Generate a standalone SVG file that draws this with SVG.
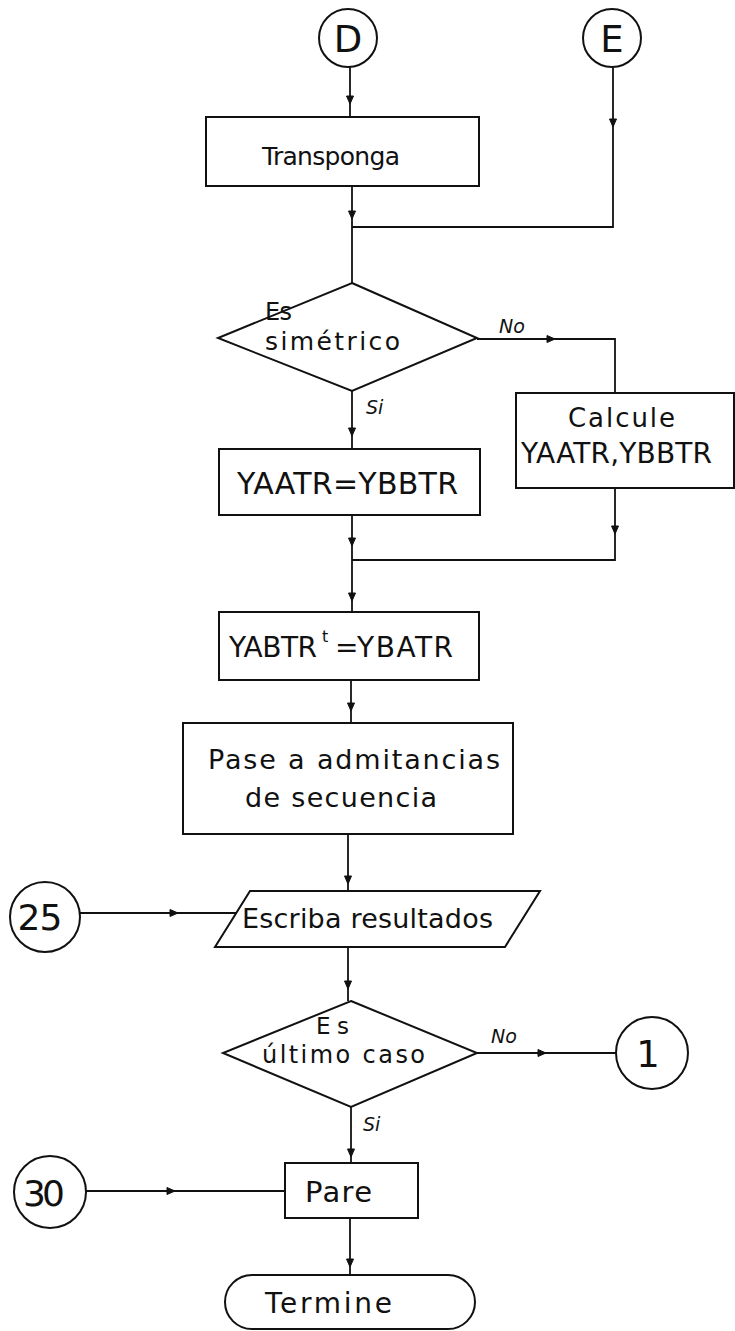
<svg xmlns="http://www.w3.org/2000/svg" width="735" height="1331" viewBox="0 0 735 1331">
  <style>
    .shape { fill: none; stroke: #111; stroke-width: 2; }
    .conn { fill: none; stroke: #111; stroke-width: 1.8; }
    .lbl { font-family: "DejaVu Sans", "Liberation Sans", sans-serif; fill: #111; }
    .small { font-family: "DejaVu Sans", "Liberation Sans", sans-serif; fill: #111; font-size: 19px; font-style: italic; }
    .mid { text-anchor: middle; }
  </style>
  <defs>
    <!-- small arrowhead pointing down (+y); rotated for other directions -->
    <path id="ah" d="M-3.5,-8 L0,0 L3.5,-8 Z" fill="#111" stroke="#111" stroke-width="1" stroke-linejoin="miter"/>
  </defs>

  <!-- connectors -->
  <g id="connectors">
    <path class="conn" d="M350,67 V117"/>
    <path class="conn" d="M352,186 V283"/>
    <path class="conn" d="M613,67 V227 H352"/>
    <path class="conn" d="M477,339 H615 V393"/>
    <path class="conn" d="M352,391 V449"/>
    <path class="conn" d="M352,515 V612"/>
    <path class="conn" d="M615,488 V560 H352"/>
    <path class="conn" d="M351,680 V723"/>
    <path class="conn" d="M348,834 V891"/>
    <path class="conn" d="M80,913 H236"/>
    <path class="conn" d="M348,947 V1001"/>
    <path class="conn" d="M477,1053 H616"/>
    <path class="conn" d="M351,1107 V1163"/>
    <path class="conn" d="M86,1191 H285"/>
    <path class="conn" d="M350,1218 V1275"/>

    <use href="#ah" transform="translate(350,104)"/>
    <use href="#ah" transform="translate(352,219)"/>
    <use href="#ah" transform="translate(613,127)"/>
    <use href="#ah" transform="translate(555,339) rotate(-90)"/>
    <use href="#ah" transform="translate(352,436)"/>
    <use href="#ah" transform="translate(352,546)"/>
    <use href="#ah" transform="translate(352,601)"/>
    <use href="#ah" transform="translate(615,534)"/>
    <use href="#ah" transform="translate(351,711)"/>
    <use href="#ah" transform="translate(348,884)"/>
    <use href="#ah" transform="translate(178,913) rotate(-90)"/>
    <use href="#ah" transform="translate(348,989)"/>
    <use href="#ah" transform="translate(546,1053) rotate(-90)"/>
    <use href="#ah" transform="translate(351,1157)"/>
    <use href="#ah" transform="translate(175,1191) rotate(-90)"/>
    <use href="#ah" transform="translate(350,1267)"/>

    <text class="small" x="499" y="333">No</text>
    <text class="small" x="366" y="414">Si</text>
    <text class="small" x="491" y="1043">No</text>
    <text class="small" x="363" y="1131">Si</text>
  </g>

  <g id="node-D">
    <circle class="shape" cx="348" cy="38" r="29"/>
    <text class="lbl mid" x="348" y="52" font-size="37">D</text>
  </g>

  <g id="node-E">
    <circle class="shape" cx="612" cy="38" r="29"/>
    <text class="lbl mid" x="612" y="52" font-size="37">E</text>
  </g>

  <g id="node-transponga">
    <rect class="shape" x="206" y="117" width="273" height="69"/>
    <text class="lbl" x="262" y="165" font-size="25" textLength="138">Transponga</text>
  </g>

  <g id="node-simetrico">
    <polygon class="shape" points="352,283 477,338 352,391 218,338"/>
    <text class="lbl" x="265" y="320" font-size="24" textLength="27">Es</text>
    <text class="lbl" x="265" y="350" font-size="25" textLength="135">simétrico</text>
  </g>

  <g id="node-calcule">
    <rect class="shape" x="516" y="393" width="218" height="95"/>
    <text class="lbl" x="568" y="427" font-size="26" textLength="107">Calcule</text>
    <text class="lbl" x="521" y="463" font-size="28" textLength="191">YAATR,YBBTR</text>
  </g>

  <g id="node-yaatr">
    <rect class="shape" x="219" y="449" width="261" height="66"/>
    <text class="lbl" x="237" y="494" font-size="30" textLength="221">YAATR=YBBTR</text>
  </g>

  <g id="node-yabtr">
    <rect class="shape" x="219" y="612" width="260" height="68"/>
    <text class="lbl" font-size="28"><tspan x="229" y="657" textLength="88">YABTR</tspan><tspan x="322" y="642" font-size="16">t</tspan><tspan x="335" y="657">=</tspan><tspan x="357" y="657" textLength="96">YBATR</tspan></text>
  </g>

  <g id="node-pase">
    <rect class="shape" x="183" y="723" width="330" height="111"/>
    <text class="lbl" x="208" y="769" font-size="27" textLength="292">Pase a admitancias</text>
    <text class="lbl" x="245" y="807" font-size="27" textLength="192">de secuencia</text>
  </g>

  <g id="node-escriba">
    <polygon class="shape" points="250,891 540,891 505,947 215,947"/>
    <text class="lbl" x="242" y="928" font-size="27" textLength="251">Escriba resultados</text>
  </g>

  <g id="node-25">
    <circle class="shape" cx="45" cy="917" r="35"/>
    <text class="lbl mid" x="40" y="930" font-size="36" textLength="45">25</text>
  </g>

  <g id="node-ultimo">
    <polygon class="shape" points="351,1001 477,1053 351,1107 223,1053"/>
    <text class="lbl" x="316" y="1034" font-size="23" textLength="33">Es</text>
    <text class="lbl" x="262" y="1063" font-size="24" textLength="163">último caso</text>
  </g>

  <g id="node-1">
    <circle class="shape" cx="652" cy="1053" r="36"/>
    <text class="lbl mid" x="648" y="1067" font-size="37">1</text>
  </g>

  <g id="node-30">
    <circle class="shape" cx="50" cy="1192" r="36"/>
    <text class="lbl mid" x="44" y="1206" font-size="36" textLength="42">30</text>
  </g>

  <g id="node-pare">
    <rect class="shape" x="285" y="1163" width="133" height="55"/>
    <text class="lbl" x="305" y="1202" font-size="29" textLength="67">Pare</text>
  </g>

  <g id="node-termine">
    <rect class="shape" x="225" y="1275" width="250" height="54" rx="27" ry="27"/>
    <text class="lbl" x="265" y="1313" font-size="28" textLength="127">Termine</text>
  </g>
</svg>
